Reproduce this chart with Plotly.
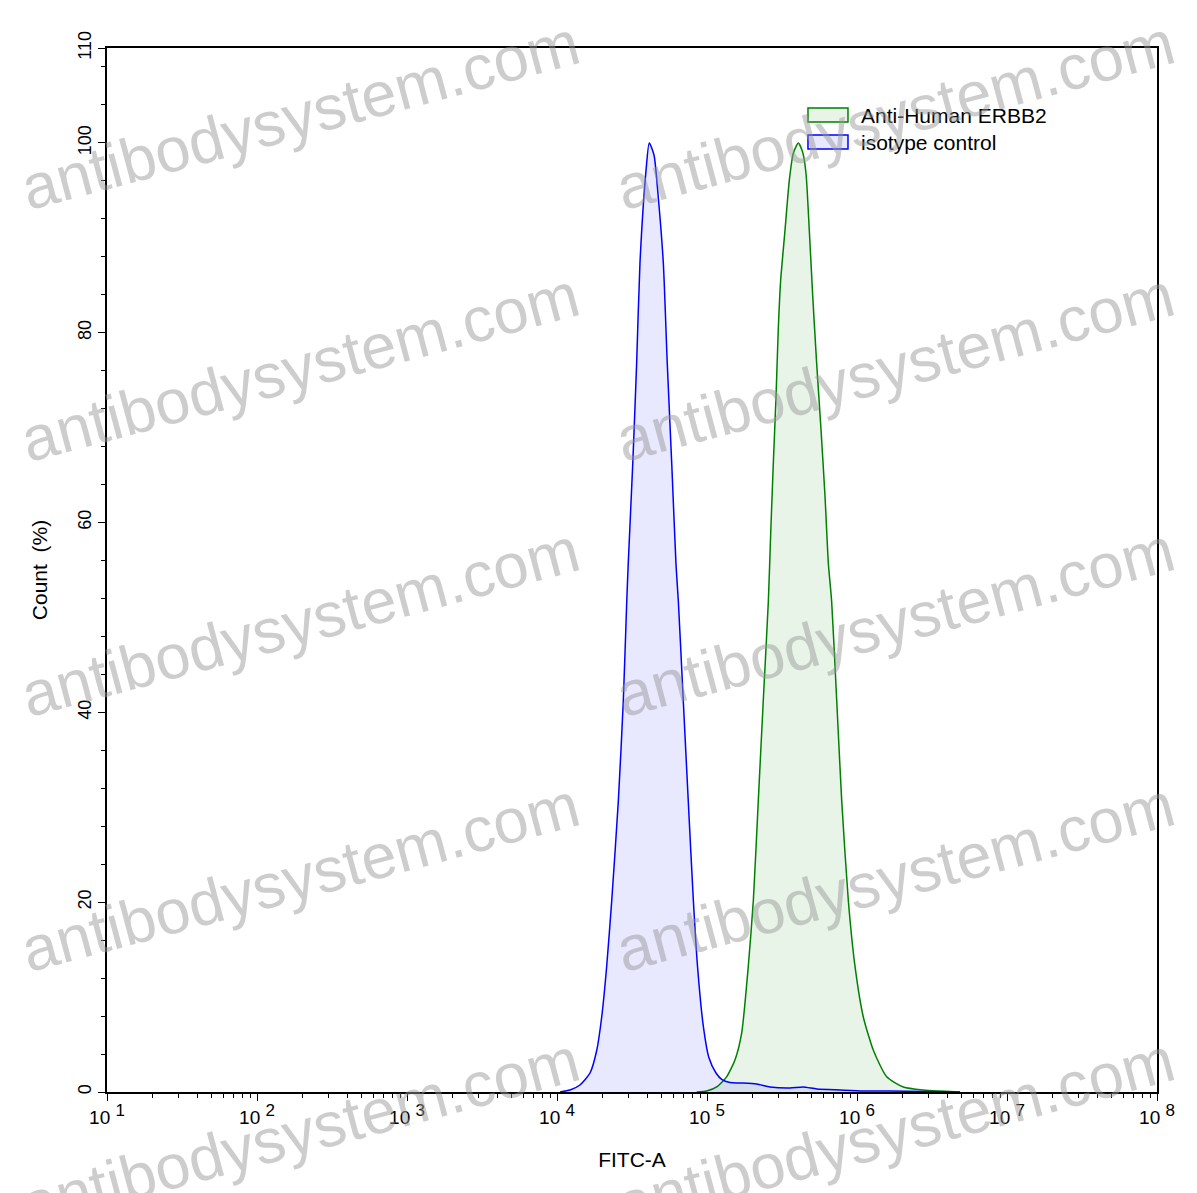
import plotly.graph_objects as go

# ---- data (x given as log10 of FITC-A intensity, y = Count %) ----
iso_log = [4.020, 4.087, 4.153, 4.220, 4.265, 4.298, 4.331, 4.365, 4.409, 4.442,
           4.465, 4.475, 4.505, 4.531, 4.553, 4.593, 4.615, 4.647, 4.675, 4.709,
           4.735, 4.765, 4.793, 4.809, 4.842, 4.875, 4.909, 4.937, 4.975, 5.013,
           5.060, 5.100, 5.153, 5.220, 5.331, 5.420, 5.553, 5.640, 5.733, 5.887,
           6.040, 6.220, 6.440, 6.687]
iso_count = [0.0, 0.21, 0.74, 2.0, 4.4, 7.9, 13.2, 20.2, 30.7, 41.2,
             51.7, 55.7, 66.2, 76.8, 87.3, 97.0, 100.0, 98.7, 94.3, 87.3,
             76.8, 66.2, 55.7, 51.7, 41.2, 30.7, 20.2, 13.2, 7.0, 3.6,
             2.0, 1.3, 1.0, 0.95, 0.84, 0.53, 0.42, 0.53, 0.32, 0.21,
             0.11, 0.11, 0.05, 0.0]

erbb2_log = [4.931, 4.998, 5.065, 5.131, 5.187, 5.231, 5.275, 5.309, 5.342, 5.375,
             5.409, 5.425, 5.442, 5.460, 5.475, 5.491, 5.520, 5.549, 5.575, 5.609,
             5.638, 5.660, 5.682, 5.705, 5.731, 5.760, 5.787, 5.809, 5.831, 5.865,
             5.898, 5.942, 5.987, 6.042, 6.109, 6.198, 6.309, 6.442, 6.553, 6.687]
erbb2_count = [0.0, 0.1, 0.53, 1.6, 3.4, 6.2, 13.2, 20.2, 30.7, 41.2,
               51.7, 59.0, 66.2, 73.2, 80.3, 85.5, 90.8, 96.1, 98.9, 100.0,
               99.0, 96.8, 90.8, 83.8, 76.8, 69.8, 62.7, 55.7, 51.7, 41.2,
               30.7, 20.2, 13.2, 7.9, 4.4, 1.6, 0.53, 0.21, 0.1, 0.0]

decades = [1, 2, 3, 4, 5, 6, 7, 8]
y_ticks = [0, 20, 40, 60, 80, 100, 110]
series_names = ["Anti-Human ERBB2", "isotype control"]
series_lines = ["#008000", "#0000FF"]
series_fills = ["rgba(0,128,0,0.09)", "rgba(0,0,255,0.09)"]
watermark = "antibodysystem.com"

FONT = "Liberation Sans, Arial, sans-serif"

fig = go.Figure()
for xs, ys, name, lc, fc in [(erbb2_log, erbb2_count, series_names[0], series_lines[0], series_fills[0]),
                             (iso_log, iso_count, series_names[1], series_lines[1], series_fills[1])]:
    fig.add_trace(go.Scatter(
        x=[10 ** v for v in xs], y=ys, mode="lines", name=name, fill="tozeroy",
        line=dict(color=lc, width=1.5, shape="spline", smoothing=0.6),
        fillcolor=fc, showlegend=False))

minor_x = [m * 10 ** d for d in decades[:-1] for m in range(2, 10)]

fig.update_xaxes(
    type="log", range=[1, 8],
    tickvals=[10 ** d for d in decades],
    ticktext=[f"10 <sup><span style='font-size:17px'>{d}</span></sup>" for d in decades],
    ticks="outside", ticklen=7, tickwidth=1.2, tickcolor="black",
    minor=dict(tickvals=minor_x, ticks="outside", ticklen=4, tickwidth=1, tickcolor="black", showgrid=False),
    showline=True, linecolor="black", linewidth=1.5, mirror=True,
    showgrid=False, zeroline=False,
    tickfont=dict(family=FONT, size=19, color="black"),
    title=dict(text="FITC-A", font=dict(family=FONT, size=21, color="black"), standoff=26),
)
fig.update_yaxes(
    range=[0, 110], tickvals=y_ticks, ticktext=[str(v) for v in y_ticks],
    tickangle=-90,
    ticks="outside", ticklen=7, tickwidth=1.2, tickcolor="black",
    minor=dict(dtick=4, tick0=0, ticks="outside", ticklen=4, tickwidth=1, tickcolor="black", showgrid=False),
    showline=True, linecolor="black", linewidth=1.5, mirror=True,
    showgrid=False, zeroline=False,
    tickfont=dict(family=FONT, size=18, color="black"),
    title=dict(text="Count\u00a0\u00a0(%)", font=dict(family=FONT, size=21, color="black"), standoff=22),
)

# manual legend (boxes + labels)
shapes = []
annotations = []
for i, (name, lc, fc) in enumerate(zip(series_names, series_lines, series_fills)):
    y1 = 0.9425 - i * 0.0259
    shapes.append(dict(type="rect", xref="paper", yref="paper",
                       x0=0.6676, x1=0.7057, y0=y1 - 0.0134, y1=y1,
                       line=dict(color=lc, width=1.5), fillcolor=fc))
    annotations.append(dict(text=name, x=0.716, y=y1 - 0.0067, xref="paper", yref="paper",
                            xanchor="left", yanchor="middle", showarrow=False,
                            font=dict(family=FONT, size=21, color="black")))

# watermark
for yc in [0.936, 0.694, 0.450, 0.206, -0.038]:
    for xc in [0.184, 0.750]:
        annotations.append(dict(
            text=watermark, x=xc, y=yc, xref="paper", yref="paper",
            xanchor="center", yanchor="middle",
            showarrow=False, textangle=-15,
            font=dict(family=FONT, size=63, color="rgba(150,150,150,0.48)")))

fig.update_layout(
    width=1197, height=1193,
    margin=dict(l=99, r=48, t=40, b=109),
    paper_bgcolor="white", plot_bgcolor="white",
    font=dict(family=FONT, color="black"),
    showlegend=False,
    shapes=shapes,
    annotations=annotations,
)

fig.write_html("out.html")
